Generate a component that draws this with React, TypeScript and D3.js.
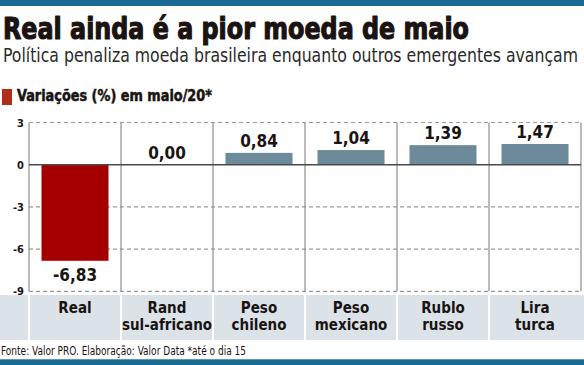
import React from "react";
import * as d3 from "d3";

const categories = ["Real", "Rand\nsul-africano", "Peso\nchileno", "Peso\nmexicano", "Rublo\nrusso", "Lira\nturca"];
const values = [-6.83, 0.0, 0.84, 1.04, 1.39, 1.47];
const valueLabels = ["-6,83", "0,00", "0,84", "1,04", "1,39", "1,47"];
const yTicks = [3, 0, -3, -6, -9];

const title = "Real ainda é a pior moeda de maio";
const subtitle = "Política penaliza moeda brasileira enquanto outros emergentes avançam";
const sectionLabel = "Variações (%) em maio/20*";
const source = "Fonte: Valor PRO. Elaboração: Valor Data *até o dia 15";

const W = 584;
const H = 365;
const COND = "'DejaVu Sans Condensed', 'Liberation Sans Narrow', 'Roboto', sans-serif";

export default function App() {
  const x = d3.scaleBand<string>().domain(categories).range([29, 581]).padding(0);
  const y = d3.scaleLinear().domain([-9, 3]).range([291.3, 122.5]);
  const bw = x.bandwidth();
  const barW = 67;
  const blue = "#6c8a99";
  const red = "#a50000";

  return (
    <svg width={W} height={H} style={{ position: "absolute", left: 0, top: 0, background: "#fff" }}>
      <rect x={0} y={0} width={W} height={6} fill="#1b6a93" />
      <text x={3} y={39} fontFamily={COND} fontWeight={900} fontSize={30} fill="#1a1311"
        stroke="#1a1311" strokeWidth={1.1} strokeLinejoin="round"
        textLength={466} lengthAdjust="spacingAndGlyphs">{title}</text>
      <text x={3} y={62} fontFamily={COND} fontWeight={300} fontSize={20} fill="#2a2a2a"
        textLength={575} lengthAdjust="spacingAndGlyphs">{subtitle}</text>
      <rect x={2} y={89} width={10} height={16} fill="#b22a1a" />
      <text x={17} y={101} fontFamily={COND} fontWeight={900} fontSize={15.5} fill="#1a1311"
        stroke="#1a1311" strokeWidth={0.5}
        textLength={195} lengthAdjust="spacingAndGlyphs">{sectionLabel}</text>

      {/* category band */}
      <rect x={0} y={295} width={W} height={45} fill="#dbe3e9" />
      {categories.map((c) => (
        <line key={"sep" + c} x1={x(c)!} x2={x(c)!} y1={295} y2={340} stroke="#fff" strokeWidth={2} />
      ))}

      {/* horizontal dashed grid */}
      {yTicks.filter((t) => t !== 0).map((t) => (
        <line key={"g" + t} x1={29} x2={581} y1={y(t)} y2={y(t)} stroke="#9a9a9a" strokeWidth={1.2} strokeDasharray="4,3" />
      ))}
      {/* vertical separators */}
      {[...categories.map((c) => x(c)!), 581].map((xx, i) => (
        <line key={"v" + i} x1={xx} x2={xx} y1={y(3)} y2={y(-9)} stroke="#8e8e8e" strokeWidth={1.2} />
      ))}

      {/* bars */}
      {categories.map((c, i) => {
        const v = values[i];
        const y0 = y(0);
        const y1 = y(v);
        const cx = x(c)! + bw / 2;
        return (
          <g key={"b" + c}>
            {v !== 0 && (
              <rect x={cx - barW / 2} y={Math.min(y0, y1)} width={barW} height={Math.abs(y1 - y0)}
                fill={v < 0 ? red : blue} />
            )}
            <text x={cx} y={v < 0 ? y1 + 20 : y1 - 6} textAnchor="middle" fontFamily={COND}
              fontWeight={700} fontSize={17} fill="#1a1311">{valueLabels[i]}</text>
          </g>
        );
      })}

      {/* zero line */}
      <line x1={29} x2={581} y1={y(0)} y2={y(0)} stroke="#4a4a4a" strokeWidth={1.5} />

      {/* y tick labels */}
      {yTicks.map((t) => (
        <text key={"t" + t} x={24} y={y(t) + 4} textAnchor="end" fontFamily={COND} fontWeight={700}
          fontSize={11} fill="#1a1311">{t}</text>
      ))}

      {/* category labels */}
      {categories.map((c) => {
        const lines = c.split("\n");
        const cx = x(c)! + bw / 2;
        return (
          <text key={"c" + c} textAnchor="middle" fontFamily={COND} fontWeight={700} fontSize={15} fill="#1a1311">
            {lines.map((l, j) => (
              <tspan key={j} x={cx} y={313 + j * 17}>{l}</tspan>
            ))}
          </text>
        );
      })}

      <text x={1} y={355} fontFamily={COND} fontSize={12} fill="#1a1311"
        textLength={245} lengthAdjust="spacingAndGlyphs">{source}</text>
      <rect x={0} y={359} width={W} height={6} fill="#1b6a93" />
      <line x1={0} x2={W} y1={359.5} y2={359.5} stroke="#5f98b6" strokeWidth={1} />
    </svg>
  );
}
